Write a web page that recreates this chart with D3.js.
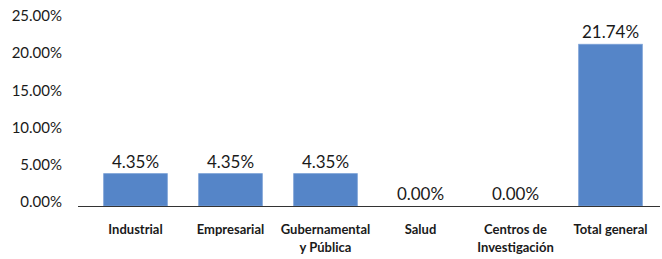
<!DOCTYPE html>
<html>
<head>
<meta charset="utf-8">
<script src="https://cdn.jsdelivr.net/npm/d3@7"></script>
<style>
  body { margin: 0; background: #fff; }
  text { font-family: Lato, "Open Sans", sans-serif; fill: #1a1a1a; }
</style>
</head>
<body>
<div id="chart"></div>
<script>
// data
var categories = ['Industrial', 'Empresarial', 'Gubernamental\ny Pública', 'Salud', 'Centros de\nInvestigación', 'Total general'];
var values = [4.35, 4.35, 4.35, 0, 0, 21.74];
var yTicks = [0, 5, 10, 15, 20, 25];

var width = 662, height = 259;

var svg = d3.select('#chart').append('svg')
    .attr('width', width)
    .attr('height', height);

var x = d3.scaleBand().domain(categories).range([88, 658]).paddingInner(0.33).paddingOuter(0.165);
var y = d3.scaleLinear().domain([0, 25]).range([206, 20]);

// y tick labels (no axis line in the original)
svg.append('g').selectAll('text')
    .data(yTicks).enter().append('text')
    .attr('x', 62)
    .attr('y', function(d){ return y(d) - 4; })
    .attr('dy', '0.35em')
    .attr('text-anchor', 'end')
    .style('font-size', '15px')
    .text(function(d){ return d.toFixed(2) + '%'; });

// bars
svg.append('g').selectAll('rect')
    .data(values).enter().append('rect')
    .attr('x', function(d, i){ return x(categories[i]); })
    .attr('y', function(d){ return y(d); })
    .attr('width', x.bandwidth())
    .attr('height', function(d){ return y(0) - y(d); })
    .attr('fill', '#5585c8')
    .attr('stroke', '#7aa0d6')
    .attr('stroke-width', 0.8);

// baseline
svg.append('line')
    .attr('x1', 78).attr('x2', 660)
    .attr('y1', y(0) + 0.5).attr('y2', y(0) + 0.5)
    .attr('stroke', '#333')
    .attr('stroke-width', 1);

// value labels
svg.append('g').selectAll('text')
    .data(values).enter().append('text')
    .attr('x', function(d, i){ return x(categories[i]) + x.bandwidth() / 2; })
    .attr('y', function(d){ return y(d) - 6; })
    .attr('text-anchor', 'middle')
    .style('font-size', '17px')
    .text(function(d){ return d.toFixed(2) + '%'; });

// category labels
var cat = svg.append('g').selectAll('text')
    .data(categories).enter().append('text')
    .attr('text-anchor', 'middle')
    .attr('y', 234)
    .style('font-size', '13px')
    .style('font-weight', 'bold');

cat.each(function(d){
    var t = d3.select(this);
    var cx = x(d) + x.bandwidth() / 2;
    d.split('\n').forEach(function(line, k){
        t.append('tspan')
            .attr('x', cx)
            .attr('dy', k === 0 ? 0 : 18)
            .text(line);
    });
});
</script>
</body>
</html>
